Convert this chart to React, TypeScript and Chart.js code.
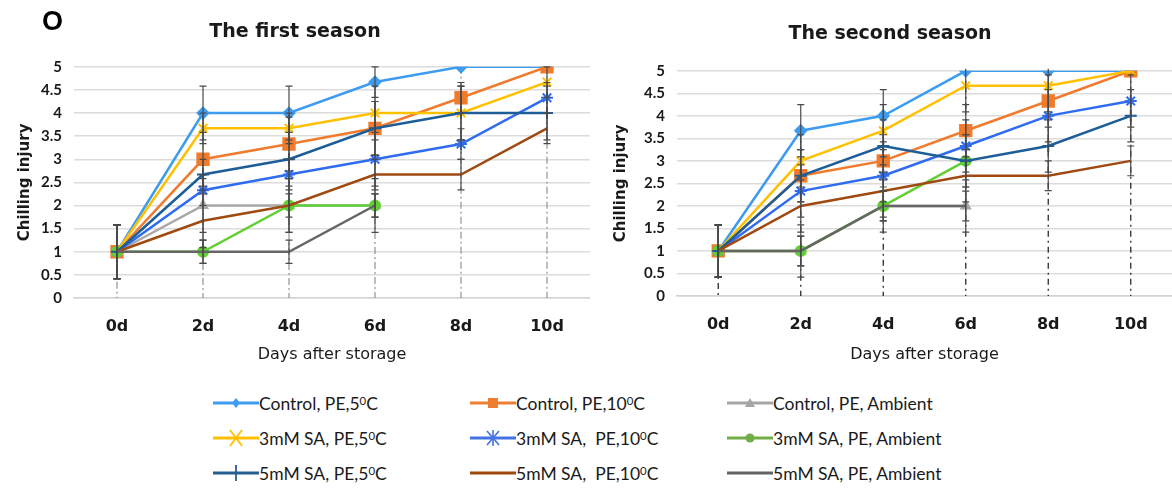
import React, { useEffect, useRef } from "react";
import { Chart, registerables } from "chart.js";

Chart.register(...registerables);

// ---------- data ----------
const days = ["0d", "2d", "4d", "6d", "8d", "10d"];

const seriesNames = [
  "Control, PE,5⁰C",
  "Control, PE,10⁰C",
  "Control, PE, Ambient",
  "3mM SA, PE,5⁰C",
  "3mM SA,  PE,10⁰C",
  "3mM SA, PE, Ambient",
  "5mM SA, PE,5⁰C",
  "5mM SA,  PE,10⁰C",
  "5mM SA, PE, Ambient",
];

const seasonTitles = ["The first season", "The second season"];

// first season
const s1Control5 = [1, 4, 4, 4.67, 5, 5];
const s1Control10 = [1, 3, 3.33, 3.67, 4.33, 5];
const s1ControlAmb = [1, 2, 2, 2, null, null];
const s1Sa3_5 = [1, 3.67, 3.67, 4, 4, 4.67];
const s1Sa3_10 = [1, 2.33, 2.67, 3, 3.33, 4.33];
const s1Sa3Amb = [1, 1, 2, 2, null, null];
const s1Sa5_5 = [1, 2.67, 3, 3.67, 4, 4];
const s1Sa5_10 = [1, 1.67, 2, 2.67, 2.67, 3.67];
const s1Sa5Amb = [1, 1, 1, 2, null, null];

// first season standard errors
const e1Control5 = [0.58, 0.58, 0.58, 0.33, 0, 0];
const e1Control10 = [0.58, 0.58, 0.58, 0.58, 0.33, 0];
const e1ControlAmb = [0.58, 0.58, 0.58, 0.58, 0, 0];
const e1Sa3_5 = [0.58, 0.33, 0.33, 0.58, 0.58, 0.33];
const e1Sa3_10 = [0.58, 0.33, 0.33, 0.58, 0.33, 0.33];
const e1Sa3Amb = [0.58, 0.25, 0.25, 0.25, 0, 0];
const e1Sa5_5 = [0.58, 0.33, 0.58, 0.58, 0.58, 0.58];
const e1Sa5_10 = [0.58, 0.58, 0.58, 0.33, 0.33, 0.33];
const e1Sa5Amb = [0.58, 0.25, 0.25, 0.25, 0, 0];

// second season
const s2Control5 = [1, 3.67, 4, 5, 5, 5];
const s2Control10 = [1, 2.67, 3, 3.67, 4.33, 5];
const s2ControlAmb = [1, 1, 2, 2, null, null];
const s2Sa3_5 = [1, 3, 3.67, 4.67, 4.67, 5];
const s2Sa3_10 = [1, 2.33, 2.67, 3.33, 4, 4.33];
const s2Sa3Amb = [1, 1, 2, 3, null, null];
const s2Sa5_5 = [1, 2.67, 3.33, 3, 3.33, 4];
const s2Sa5_10 = [1, 2, 2.33, 2.67, 2.67, 3];
const s2Sa5Amb = [1, 1, 2, 2, null, null];

// second season standard errors
const e2Control5 = [0.58, 0.58, 0.58, 0, 0, 0];
const e2Control10 = [0.58, 0.58, 0.58, 0.58, 0.58, 0];
const e2ControlAmb = [0.58, 0.58, 0.58, 0.58, 0, 0];
const e2Sa3_5 = [0.58, 0.58, 0.58, 0.58, 0.58, 0];
const e2Sa3_10 = [0.58, 0.58, 0.58, 0.58, 0.58, 0.58];
const e2Sa3Amb = [0.58, 0.33, 0.33, 0.58, 0, 0];
const e2Sa5_5 = [0.58, 0.58, 0.58, 0.58, 0.58, 0.58];
const e2Sa5_10 = [0.58, 0.58, 0.58, 0.58, 0.33, 0.33];
const e2Sa5Amb = [0.58, 0.33, 0.33, 0.33, 0, 0];

const season1 = [s1Control5, s1Control10, s1ControlAmb, s1Sa3_5, s1Sa3_10, s1Sa3Amb, s1Sa5_5, s1Sa5_10, s1Sa5Amb];
const season1Err = [e1Control5, e1Control10, e1ControlAmb, e1Sa3_5, e1Sa3_10, e1Sa3Amb, e1Sa5_5, e1Sa5_10, e1Sa5Amb];
const season2 = [s2Control5, s2Control10, s2ControlAmb, s2Sa3_5, s2Sa3_10, s2Sa3Amb, s2Sa5_5, s2Sa5_10, s2Sa5Amb];
const season2Err = [e2Control5, e2Control10, e2ControlAmb, e2Sa3_5, e2Sa3_10, e2Sa3Amb, e2Sa5_5, e2Sa5_10, e2Sa5Amb];

// ---------- styles ----------
const colors = ["#3d9cf0", "#f07b2d", "#a8a8a8", "#ffc000", "#2f6cf0", "#62cf35", "#1d5e99", "#a04a12", "#666666"];
const legendColors = ["#3d9cf0", "#ed7d31", "#a5a5a5", "#ffc000", "#4472e4", "#70ad47", "#255e91", "#9e480e", "#636363"];
const pointStyles: any[] = ["rectRot", "rect", "triangle", "crossRot", "star", "circle", "cross", "circle", "circle"];
const pointRadii = [5.5, 8, 5, 6, 6, 5, 6, 0, 0];

const FONT = "Lato, 'Liberation Sans', sans-serif";
const WIDE = "'DejaVu Sans', sans-serif";

const errorBarPlugin = {
  id: "errorBars",
  afterDatasetsDraw(chart: any, _a: any, opts: any) {
    const { ctx, chartArea } = chart;
    const x = chart.scales.x;
    const y = chart.scales.y;
    ctx.save();
    ctx.beginPath();
    ctx.rect(chartArea.left - 10, chartArea.top - 2, chartArea.right - chartArea.left + 20, chartArea.bottom - chartArea.top + 2);
    ctx.clip();
    ctx.strokeStyle = opts.color;
    ctx.lineWidth = 1.2;
    chart.data.datasets.forEach((ds: any, di: number) => {
      const errs = opts.errors[di];
      if (!errs) return;
      ds.data.forEach((v: number | null, i: number) => {
        const e = errs[i];
        if (v == null || !e) return;
        const px = x.getPixelForValue(i);
        const top = y.getPixelForValue(v + e);
        const bot = y.getPixelForValue(v - e);
        ctx.beginPath();
        ctx.moveTo(px, top);
        ctx.lineTo(px, bot);
        ctx.moveTo(px - 3.5, top);
        ctx.lineTo(px + 3.5, top);
        ctx.moveTo(px - 3.5, bot);
        ctx.lineTo(px + 3.5, bot);
        ctx.stroke();
      });
    });
    ctx.restore();
  },
};

const dropLinePlugin = {
  id: "dropLines",
  beforeDatasetsDraw(chart: any, _a: any, opts: any) {
    const { ctx, chartArea } = chart;
    const x = chart.scales.x;
    const y = chart.scales.y;
    ctx.save();
    ctx.strokeStyle = opts.color;
    ctx.lineWidth = 1.3;
    ctx.setLineDash(opts.dash);
    chart.data.labels.forEach((_l: any, i: number) => {
      let max = -Infinity;
      chart.data.datasets.forEach((ds: any) => {
        const v = ds.data[i];
        if (v != null && v > max) max = v;
      });
      if (!isFinite(max)) return;
      const px = x.getPixelForValue(i);
      ctx.beginPath();
      ctx.moveTo(px, y.getPixelForValue(max));
      ctx.lineTo(px, chartArea.bottom);
      ctx.stroke();
    });
    ctx.restore();
  },
};

type Geom = {
  padLeft: number;
  titleTop: number;
  titleBottom: number;
  xH: number;
  yW: number;
  yTickPad: number;
  yTitlePad: number;
  dropColor: string;
  dash: number[];
};

function makeChart(canvas: HTMLCanvasElement, values: (number | null)[][], errors: number[][], title: string, g: Geom) {
  return new Chart(canvas, {
    type: "line",
    data: {
      labels: days,
      datasets: values.map((v, i) => ({
        label: seriesNames[i],
        data: v,
        borderColor: colors[i],
        backgroundColor: colors[i],
        pointStyle: pointStyles[i],
        pointRadius: pointRadii[i],
        pointBorderWidth: 2,
        pointBorderColor: colors[i],
        borderWidth: 2.5,
        tension: 0,
        spanGaps: false,
        order: 20 - i,
      })),
    },
    options: {
      animation: false,
      responsive: false,
      maintainAspectRatio: false,
      layout: { autoPadding: false, padding: { left: g.padLeft, right: 0, top: 0, bottom: 0 } },
      plugins: {
        legend: { display: false },
        tooltip: { enabled: false },
        title: {
          display: true,
          text: title,
          color: "#1a1a1a",
          font: { family: WIDE, size: 19, weight: "bold" },
          padding: { top: g.titleTop, bottom: g.titleBottom },
        },
        errorBars: { errors, color: "#4a4a4a" },
        dropLines: { color: g.dropColor, dash: g.dash },
      } as any,
      scales: {
        x: {
          type: "category",
          offset: true,
          grid: { display: false, drawTicks: false },
          border: { display: true, color: "#d4d4d4", width: 1.5 },
          ticks: {
            padding: 19,
            color: "#1a1a1a",
            font: { family: WIDE, size: 16, weight: "bold" },
          },
          title: {
            display: true,
            text: "Days after storage",
            color: "#1a1a1a",
            font: { family: WIDE, size: 16 },
            padding: { top: 0, bottom: 6 },
          },
          afterFit: (s: any) => {
            s.height = g.xH;
          },
        },
        y: {
          min: 0,
          max: 5,
          ticks: {
            stepSize: 0.5,
            padding: g.yTickPad,
            color: "#1a1a1a",
            font: { family: FONT, size: 15, weight: "bold" },
            callback: (v: any) => String(Number(v)),
          },
          grid: { color: "#dcdcdc", lineWidth: 1.5, drawTicks: false },
          border: { display: false },
          title: {
            display: true,
            text: "Chilling injury",
            color: "#1a1a1a",
            font: { family: WIDE, size: 15, weight: "bold" },
            padding: { top: g.yTitlePad, bottom: 0 },
          },
          afterFit: (s: any) => {
            s.width = g.yW;
          },
        },
      },
    },
    plugins: [dropLinePlugin, errorBarPlugin],
  });
}

function Marker({ i }: { i: number }) {
  const c = legendColors[i];
  const cx = 23;
  const cy = 8;
  let m: any = null;
  switch (pointStyles[i]) {
    case "rectRot":
      m = <polygon points={`${cx},${cy - 5} ${cx + 4},${cy} ${cx},${cy + 5} ${cx - 4},${cy}`} fill={c} />;
      break;
    case "rect":
      m = <rect x={cx - 5} y={cy - 5} width={10} height={10} fill={c} />;
      break;
    case "triangle":
      m = <polygon points={`${cx},${cy - 5} ${cx + 5},${cy + 4} ${cx - 5},${cy + 4}`} fill={c} />;
      break;
    case "crossRot":
      m = (
        <g stroke={c} strokeWidth={1.8}>
          <line x1={cx - 6} y1={cy - 8} x2={cx + 6} y2={cy + 8} />
          <line x1={cx + 6} y1={cy - 8} x2={cx - 6} y2={cy + 8} />
        </g>
      );
      break;
    case "star":
      m = (
        <g stroke={c} strokeWidth={1.6}>
          <line x1={cx - 6} y1={cy - 7} x2={cx + 6} y2={cy + 7} />
          <line x1={cx + 6} y1={cy - 7} x2={cx - 6} y2={cy + 7} />
          <line x1={cx} y1={cy - 8} x2={cx} y2={cy + 8} />
        </g>
      );
      break;
    case "circle":
      m = pointRadii[i] > 0 ? <circle cx={cx} cy={cy} r={4.5} fill={c} /> : null;
      break;
    case "cross":
      m = <line x1={cx} y1={cy - 8} x2={cx} y2={cy + 8} stroke={c} strokeWidth={1.8} />;
      break;
  }
  return (
    <svg width={46} height={18} viewBox="0 -1 46 18" style={{ display: "block" }}>
      <line x1={0} y1={cy} x2={46} y2={cy} stroke={c} strokeWidth={3} />
      {m}
    </svg>
  );
}

function LegendLabel({ text }: { text: string }) {
  const idx = text.indexOf("⁰");
  if (idx < 0) return <span>{text}</span>;
  return (
    <span>
      {text.slice(0, idx)}
      <sup style={{ fontSize: "0.65em", verticalAlign: "0.45em" }}>0</sup>
      {text.slice(idx + 1)}
    </span>
  );
}

export default function App() {
  const ref1 = useRef<HTMLCanvasElement>(null);
  const ref2 = useRef<HTMLCanvasElement>(null);

  useEffect(() => {
    const c1 = makeChart(ref1.current!, season1, season1Err, seasonTitles[0], {
      padLeft: 0,
      titleTop: 21,
      titleBottom: 23,
      xH: 72,
      yW: 74,
      yTickPad: 12,
      yTitlePad: 16,
      dropColor: "#9a9a9a",
      dash: [7, 3, 2, 3],
    });
    const c2 = makeChart(ref2.current!, season2, season2Err, seasonTitles[1], {
      padLeft: 18,
      titleTop: 23,
      titleBottom: 25,
      xH: 74,
      yW: 69,
      yTickPad: 12,
      yTitlePad: 4,
      dropColor: "#2a2a2a",
      dash: [6, 4, 2, 4],
    });
    return () => {
      c1.destroy();
      c2.destroy();
    };
  }, []);

  const colX = [213, 470, 727];
  const rowY = [403, 438, 473];

  return (
    <div style={{ position: "absolute", left: 0, top: 0, width: 1172, height: 498, background: "#fff", overflow: "hidden" }}>
      <canvas ref={ref1} width={590} height={370} style={{ position: "absolute", left: 0, top: 0, width: 590, height: 370 }} />
      <canvas ref={ref2} width={582} height={370} style={{ position: "absolute", left: 590, top: 0, width: 582, height: 370 }} />
      <div
        style={{
          position: "absolute",
          left: 42,
          top: 6,
          fontFamily: "'Liberation Sans', Arial, sans-serif",
          fontWeight: "bold",
          fontSize: 27,
          color: "#000",
          lineHeight: "30px",
        }}
      >
        O
      </div>
      {seriesNames.map((name, i) => {
        const col = i % 3;
        const row = Math.floor(i / 3);
        return (
          <div
            key={i}
            style={{
              position: "absolute",
              left: colX[col],
              top: rowY[row] - 11,
              height: 22,
              display: "flex",
              alignItems: "center",
              fontFamily: FONT,
              fontSize: 17.5,
              color: "#1a1a1a",
              whiteSpace: "pre",
            }}
          >
            <Marker i={i} />
            <LegendLabel text={name} />
          </div>
        );
      })}
    </div>
  );
}
